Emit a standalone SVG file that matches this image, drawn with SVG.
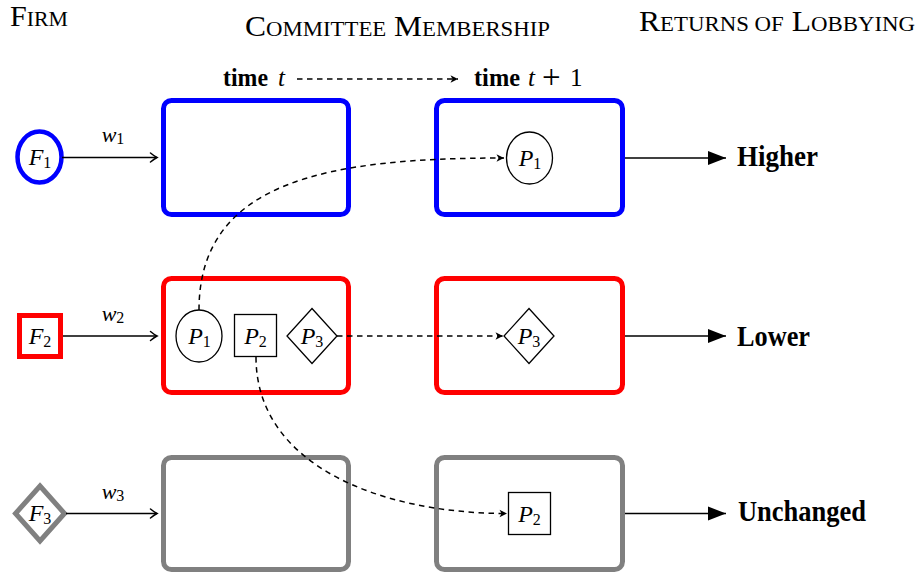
<svg xmlns="http://www.w3.org/2000/svg" width="920" height="573" viewBox="0 0 920 573">
<style>
text{font-family:"Liberation Serif","Times New Roman",serif;fill:#000}
.hd{font-size:29px}
.sc{font-size:21px}
.m{font-style:italic;font-size:24px}
.sub{font-style:normal;font-size:16px}
.wl{font-style:italic;font-size:22px}
.bl{font-weight:bold;font-size:30px}
.tm{font-size:25px}
.box{fill:#fff;stroke-width:5}
.blue{stroke:#0000ff}
.red{stroke:#ff0000}
.gray{stroke:#808080}
.pn{fill:#fff;stroke:#000;stroke-width:1.3}
.solid{fill:none;stroke:#000;stroke-width:1.6}
.dash{fill:none;stroke:#000;stroke-width:1.5;stroke-dasharray:5.5 4.5}
</style>
<defs>
<marker id="to" markerUnits="userSpaceOnUse" markerWidth="12" markerHeight="12" viewBox="-8 -6 10 12" refX="0" refY="0" orient="auto">
<path d="M-6.5,-4.5 Q-2.5,-1.2 0,0 Q-2.5,1.2 -6.5,4.5" fill="none" stroke="#000" stroke-width="1.5" stroke-linecap="round"/>
</marker>
<marker id="dto" markerUnits="userSpaceOnUse" markerWidth="12" markerHeight="12" viewBox="-9 -6 10 12" refX="0" refY="0" orient="auto">
<path d="M0,0 L-7.5,-3.8 L-5.5,0 L-7.5,3.8 Z" fill="#000"/>
</marker>
<marker id="lx" markerUnits="userSpaceOnUse" markerWidth="20" markerHeight="16" viewBox="-19 -8 20 16" refX="0" refY="0" orient="auto">
<path d="M0,0 L-18,-7 L-18,7 Z" fill="#000"/>
</marker>
</defs>

<g id="headings">
<text x="10" y="26" class="hd" textLength="58" lengthAdjust="spacingAndGlyphs">F<tspan class="sc">IRM</tspan></text>
<text x="245" y="36" class="hd" textLength="305" lengthAdjust="spacingAndGlyphs">C<tspan class="sc">OMMITTEE</tspan> M<tspan class="sc">EMBERSHIP</tspan></text>
<text x="639" y="31" class="hd" textLength="276" lengthAdjust="spacingAndGlyphs">R<tspan class="sc">ETURNS OF</tspan> L<tspan class="sc">OBBYING</tspan></text>
</g>

<g id="time-t">
<text x="223" y="86" class="tm" font-weight="bold" textLength="45" lengthAdjust="spacingAndGlyphs">time</text>
<text x="278" y="86" class="tm" font-style="italic">t</text>
</g>
<g id="time-t1">
<text x="474" y="86" class="tm" font-weight="bold" textLength="46" lengthAdjust="spacingAndGlyphs">time</text>
<text x="528" y="86" class="tm" font-style="italic">t</text>
<text x="542" y="88" font-size="33px">+</text>
<text x="570" y="86" class="tm">1</text>
</g>

<g id="F1"><ellipse cx="39.5" cy="157" rx="22" ry="25.5" fill="#fff" stroke="#0000ff" stroke-width="4.5"/><text x="40" y="165" class="m" text-anchor="middle">F<tspan class="sub" dy="3">1</tspan></text></g>
<g id="F2"><rect x="19.5" y="315.5" width="41" height="41" fill="#fff" stroke="#ff0000" stroke-width="5"/><text x="40" y="344" class="m" text-anchor="middle">F<tspan class="sub" dy="3">2</tspan></text></g>
<g id="F3"><polygon points="40,486 64.5,513.5 40,541 15.5,513.5" fill="#fff" stroke="#808080" stroke-width="5"/><text x="40" y="521" class="m" text-anchor="middle">F<tspan class="sub" dy="3">3</tspan></text></g>

<g id="box-blue-t"><rect x="163.5" y="100.5" width="185" height="114" rx="8" class="box blue"/></g>
<g id="box-blue-t1"><rect x="436.5" y="100.5" width="186" height="114" rx="8" class="box blue"/></g>
<g id="box-red-t"><rect x="163.5" y="278.5" width="185" height="114" rx="8" class="box red"/></g>
<g id="box-red-t1"><rect x="436.5" y="278.5" width="186" height="114" rx="8" class="box red"/></g>
<g id="box-gray-t"><rect x="163.5" y="457.5" width="185" height="112" rx="8" class="box gray"/></g>
<g id="box-gray-t1"><rect x="436.5" y="457.5" width="186" height="112" rx="8" class="box gray"/></g>

<g id="P1-t"><ellipse cx="199" cy="336" rx="23" ry="26" class="pn"/><text x="199.5" y="344" class="m" text-anchor="middle">P<tspan class="sub" dy="3">1</tspan></text></g>
<g id="P2-t"><rect x="234.5" y="314.5" width="42" height="42" class="pn"/><text x="255.5" y="344" class="m" text-anchor="middle">P<tspan class="sub" dy="3">2</tspan></text></g>
<g id="P3-t"><polygon points="312,308.5 337,336 312,363.5 287,336" class="pn"/><text x="312" y="344" class="m" text-anchor="middle">P<tspan class="sub" dy="3">3</tspan></text></g>
<g id="P1-t1"><ellipse cx="529.5" cy="158" rx="23" ry="26" class="pn"/><text x="530" y="166" class="m" text-anchor="middle">P<tspan class="sub" dy="3">1</tspan></text></g>
<g id="P3-t1"><polygon points="529,308.5 554,336 529,363.5 504,336" class="pn"/><text x="529" y="344" class="m" text-anchor="middle">P<tspan class="sub" dy="3">3</tspan></text></g>
<g id="P2-t1"><rect x="508.5" y="492.5" width="42" height="42" class="pn"/><text x="529.5" y="522" class="m" text-anchor="middle">P<tspan class="sub" dy="3">2</tspan></text></g>

<g id="connectors">
<line x1="297" y1="79" x2="458" y2="79" class="dash" marker-end="url(#dto)"/>
<line x1="62" y1="157.5" x2="157" y2="157.5" class="solid" marker-end="url(#to)"/>
<line x1="63" y1="336" x2="157" y2="336" class="solid" marker-end="url(#to)"/>
<line x1="66" y1="513.5" x2="157" y2="513.5" class="solid" marker-end="url(#to)"/>
<path d="M199,310 C199,180 330,158 504,158" class="dash" marker-end="url(#dto)"/>
<path d="M337,336 L503,336" class="dash" marker-end="url(#dto)"/>
<path d="M256,357 C256,465 380,513.5 507,513.5" class="dash" marker-end="url(#dto)"/>
<line x1="625" y1="158" x2="726" y2="158" class="solid" marker-end="url(#lx)"/>
<line x1="625" y1="336" x2="726" y2="336" class="solid" marker-end="url(#lx)"/>
<line x1="625" y1="513.5" x2="726" y2="513.5" class="solid" marker-end="url(#lx)"/>
<text x="113" y="142" class="wl" text-anchor="middle">w<tspan class="sub" font-size="15" dy="2">1</tspan></text>
<text x="113" y="321" class="wl" text-anchor="middle">w<tspan class="sub" font-size="15" dy="2">2</tspan></text>
<text x="113" y="499" class="wl" text-anchor="middle">w<tspan class="sub" font-size="15" dy="2">3</tspan></text>
</g>

<g id="labels">
<text x="737" y="166" class="bl" textLength="81" lengthAdjust="spacingAndGlyphs">Higher</text>
<text x="737" y="346" class="bl" textLength="73" lengthAdjust="spacingAndGlyphs">Lower</text>
<text x="738" y="521" class="bl" textLength="128" lengthAdjust="spacingAndGlyphs">Unchanged</text>
</g>
</svg>
